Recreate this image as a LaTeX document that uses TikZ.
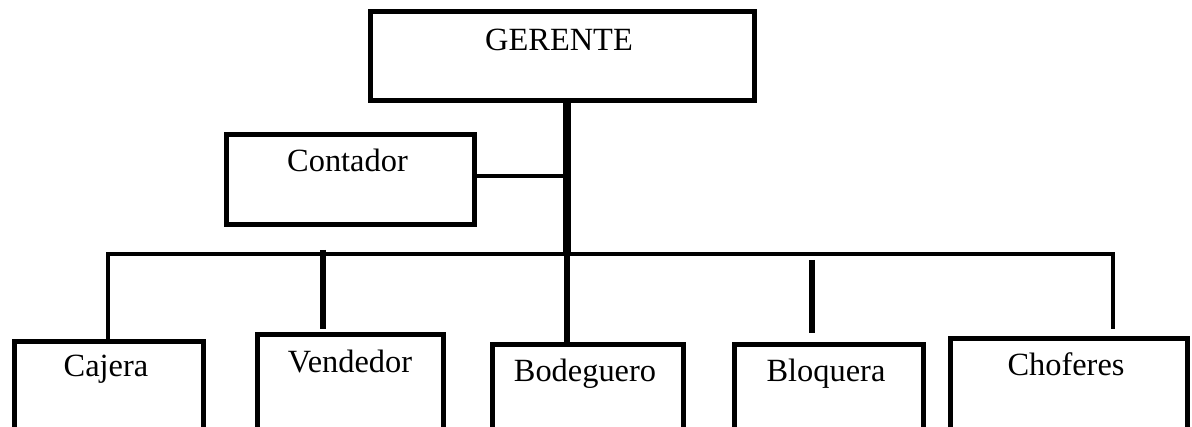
\documentclass[tikz,border=0pt]{standalone}
\usepackage{fontspec}
\setmainfont{Liberation Serif}
\begin{document}
\begin{tikzpicture}[x=0.75pt,y=-0.75pt,
  box/.style={draw=black,line width=3.4pt,fill=white,inner sep=0pt,anchor=north west},
  lbl/.style={anchor=base,inner sep=0pt,font=\fontsize{24.3}{29}\selectfont},
  conn/.style={draw=black,line width=3.3pt},
  drop/.style={draw=black,line width=3.9pt},
  trunk/.style={draw=black,line width=5.4pt}]
\clip (0,0) rectangle (1192,427);
\fill[white] (0,0) rectangle (1192,427);
% boxes
\node[box,minimum width=384*0.75pt,minimum height=89*0.75pt] (ger) at (368,9) {};
\node[box,minimum width=248*0.75pt,minimum height=90*0.75pt] (con) at (224,132) {};
\node[box,minimum width=189*0.75pt,minimum height=150*0.75pt] (caj) at (12,339) {};
\node[box,minimum width=186*0.75pt,minimum height=150*0.75pt] (ven) at (255,332) {};
\node[box,minimum width=191*0.75pt,minimum height=150*0.75pt] (bod) at (490,342) {};
\node[box,minimum width=189*0.75pt,minimum height=150*0.75pt] (blo) at (732,342) {};
\node[box,line width=3.8pt,minimum width=237*0.75pt,minimum height=150*0.75pt] (cho) at (948,336) {};
% labels
\node[lbl] (gerT) at (559,51) {GERENTE};
\node[lbl] (conT) at (347.5,172) {Contador};
\node[lbl] (cajT) at (106,377) {Cajera};
\node[lbl] (venT) at (350,373) {Vendedor};
\node[lbl] (bodT) at (585,382) {Bodeguero};
\node[lbl] (bloT) at (826,382) {Bloquera};
\node[lbl] (choT) at (1066,376) {Choferes};
% connector points
\coordinate (tTop) at (567,98);
\coordinate (tCon) at (567,176);
\coordinate (tBus) at (567,254);
\coordinate (bL) at (108,254);
\coordinate (bR) at (1113,254);
\coordinate (vTop) at (323,250);
\coordinate (vBot) at (323,329);
\coordinate (qTop) at (812,260);
\coordinate (qBot) at (812,333);
\coordinate (cBot) at (1113,329);
% connectors
\draw[trunk] (ger.south -| tTop) -- (tBus);
\draw[conn] (con.east |- tCon) -- (tCon);
\draw[conn,line join=miter] (caj.north -| bL) -- (bL) -- (bR) -- (cBot);
\draw[drop] (tBus) -- (bod.north -| tBus);
\draw[drop] (vTop) -- (vBot);
\draw[drop] (qTop) -- (qBot);
\end{tikzpicture}
\end{document}
